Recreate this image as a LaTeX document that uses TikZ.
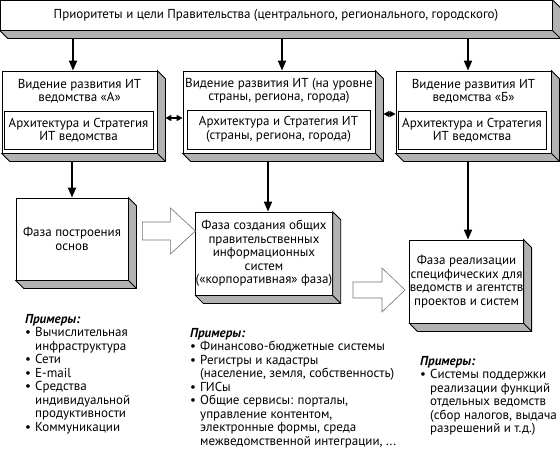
\documentclass[tikz,border=0pt]{standalone}
\usepackage{fontspec}
\setmainfont{PT Sans}
\usetikzlibrary{calc,arrows.meta}

% extruded sides of a box node
\newcommand{\slab}[1]{%
 \filldraw[side] (#1.north east) -- ++(8,8) -- ($(#1.south east)+(8,8)$)
   -- ($(#1.south west)+(8,8)$) -- (#1.south west) -- (#1.south east) -- cycle;
 \draw[side] (#1.south east) -- ++(8,8);}
\newcommand{\bul}{\makebox[10pt][l]{\textbullet}}
\newcommand{\cnt}{\hspace*{10pt}}

\begin{document}
\begin{tikzpicture}[x=1pt, y=-1pt,                  % pixel grid, y down
                    font=\fontsize{13}{13.5}\selectfont,
                    >={Triangle[length=10pt,width=8pt]},  % arrow tip
                    face/.style={draw=black, line width=0.8pt, fill=white, inner sep=0pt},
                    side/.style={draw=black, line width=0.8pt, fill=black!30},
                    link/.style={line width=1.8pt, ->},
                    dbl/.style={line width=1.4pt, {Triangle[length=6pt,width=6pt]}-{Triangle[length=6pt,width=6pt]}},
                    push/.style={draw=black!55, fill=white, line width=0.6pt},
                    list/.style={anchor=north west, align=left, inner sep=0pt, font=\fontsize{13}{13.5}\selectfont}
                    ]
\useasboundingbox (0,0) rectangle (560,451);

% Priorities
\node[face, minimum width=552pt, minimum height=30pt] (prio) at (276,15)
  {Приоритеты и цели Правительства (центрального, регионального, городского)};
\slab{prio}

% Vision A
\node[face, minimum width=155pt, minimum height=82pt] (visA) at (79.5,112) {};
\slab{visA}
\node[align=center] (visAt) at (79.5,91) {Видение развития ИТ\\ведомства «А»};
\node[face, minimum width=149pt, minimum height=38pt, align=center] (archA) at (78.5,130)
  {Архитектура и Стратегия\\ИТ ведомства};

% Vision of country / region / city
\node[face, minimum width=192pt, minimum height=82pt] (visM) at (279,112) {};
\slab{visM}
\node[align=center] (visMt) at (279,91) {Видение развития ИТ (на уровне\\страны, региона, города)};
\node[face, minimum width=183pt, minimum height=39pt, align=center] (archM) at (278.5,129.5)
  {Архитектура и Стратегия ИТ\\(страны, региона, города)};

% Vision B
\node[face, minimum width=155pt, minimum height=82pt] (visB) at (473.5,112) {};
\slab{visB}
\node[align=center] (visBt) at (473.5,91) {Видение развития ИТ\\ведомства «Б»};
\node[face, minimum width=148pt, minimum height=38pt, align=center] (archB) at (472,130)
  {Архитектура и Стратегия\\ИТ ведомства};

% links between visions
\draw[dbl] ([xshift=8pt,yshift=-6pt]visA.east) -- ([yshift=-6pt]visM.west);
\draw[dbl] ([xshift=8pt,yshift=-2pt]visM.east) -- ([yshift=-2pt]visB.west);

% priorities -> visions
\draw[link] ([xshift=-6.5pt,yshift=-8pt]prio.south -| visA.north) -- ([xshift=-6.5pt]visA.north);
\draw[link] ([xshift=3pt,yshift=-8pt]prio.south -| visM.north) -- ([xshift=3pt]visM.north);
\draw[link] ([xshift=-5.5pt,yshift=-8pt]prio.south -| visB.north) -- ([xshift=-5.5pt]visB.north);

% Phases
\node[face, minimum width=112pt, minimum height=82pt, align=center] (phase1) at (72,239)
  {Фаза построения\\основ};
\slab{phase1}
\node[face, minimum width=132pt, minimum height=83pt, align=center] (phase2) at (264,253.5)
  {Фаза создания общих\\правительственных\\информационных\\систем\\(«корпоративная» фаза)};
\slab{phase2}
\node[face, minimum width=113pt, minimum height=83pt, align=center] (phase3) at (466.5,281.5)
  {Фаза реализации\\специфических для\\ведомств и агентств\\проектов и систем};
\slab{phase3}

% visions -> phases
\draw[link] ([yshift=-8pt]visA.south -| phase1.north) -- (phase1.north);
\draw[link] ([xshift=4pt,yshift=-8pt]visM.south -| phase2.north) -- ([xshift=4pt]phase2.north);
\draw[link] ([xshift=1.5pt,yshift=-8pt]visB.south -| phase3.north) -- ([xshift=1.5pt]phase3.north);

% hollow arrows between phases
\coordinate (p1) at ($(phase1.east)+(14,-8)$);
\draw[push] (p1) -- ++(0,-9) -- ++(28,0) -- ++(0,-14) -- ++(25,23) -- ++(-25,23)
  -- ++(0,-14) -- ++(-28,0) -- cycle;
\coordinate (p2) at (353,290);
\draw[push] (p2) -- ++(0,-8) -- ++(29,0) -- ++(0,-14) -- ++(23,22) -- ++(-23,22)
  -- ++(0,-14) -- ++(-29,0) -- cycle;

% Examples
\node[list] (exA) at (25,314) {\textbf{\textit{Примеры:}}\\
  \bul Вычислительная\\ \cnt инфраструктура\\ \bul Сети\\ \bul E-mail\\
  \bul Средства\\ \cnt индивидуальной\\ \cnt продуктивности\\ \bul Коммуникации};
\node[list] (exM) at (190,328) {\textbf{\textit{Примеры:}}\\
  \bul Финансово-бюджетные системы\\ \bul Регистры и кадастры\\
  \cnt (население, земля, собственность)\\ \bul ГИСы\\
  \bul Общие сервисы: порталы,\\ \cnt управление контентом,\\
  \cnt электронные формы, среда\\ \cnt межведомственной интеграции, ...};
\node[list] (exB) at (420,356) {\textbf{\textit{Примеры:}}\\
  \bul Системы поддержки\\ \cnt реализации функций\\ \cnt отдельных ведомств\\
  \cnt (сбор налогов, выдача\\ \cnt разрешений и т.д.)};

\end{tikzpicture}
\end{document}
